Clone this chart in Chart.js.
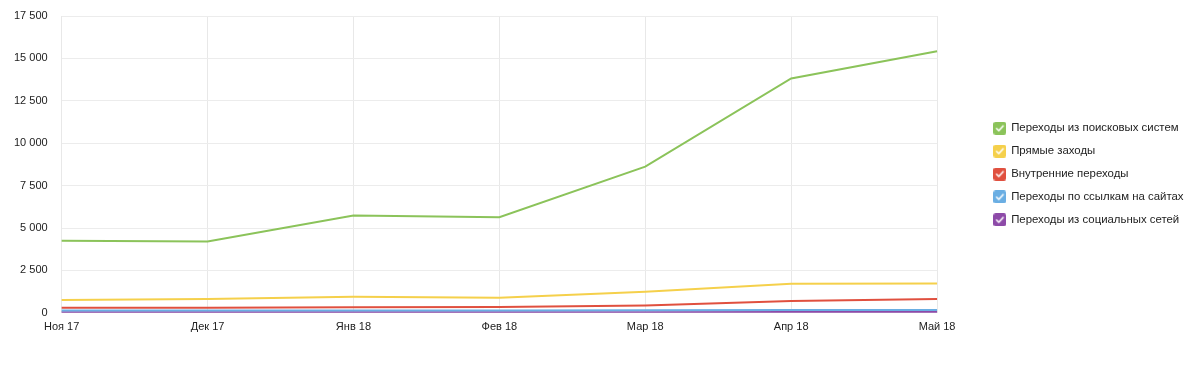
<!DOCTYPE html>
<html>
<head>
<meta charset="utf-8">
<script src="https://cdn.jsdelivr.net/npm/chart.js@4/dist/chart.umd.min.js"></script>
<style>
    html, body { margin: 0; padding: 0; background: #fff; }
    #wrap { width: 1200px; height: 369px; }
</style>
</head>
<body>
<div id="wrap"><canvas id="traffic"></canvas></div>
<script>
// months on the x axis
const months = ['Ноя 17', 'Дек 17', 'Янв 18', 'Фев 18', 'Мар 18', 'Апр 18', 'Май 18'];

// visits by source
const searchVisits = [4250, 4200, 5730, 5640, 8620, 13820, 15420];
const directVisits = [760, 820, 940, 890, 1240, 1720, 1730];
const internalVisits = [300, 300, 320, 340, 430, 700, 820];
const linkVisits = [130, 130, 140, 140, 150, 170, 170];
const socialVisits = [30, 30, 30, 30, 30, 40, 40];

const seriesNames = [
    'Переходы из поисковых систем',
    'Прямые заходы',
    'Внутренние переходы',
    'Переходы по ссылкам на сайтах',
    'Переходы из социальных сетей'
];
const seriesColors = ['#8bc35a', '#f5d04b', '#e0503f', '#6aaee3', '#8d4aa8'];

// y ticks
const yMax = 17500;
const yStep = 2500;

// little checkbox icons for the legend
function makeCheckbox(color) {
    const c = document.createElement('canvas');
    c.width = 13;
    c.height = 13;
    const g = c.getContext('2d');
    g.fillStyle = color;
    g.beginPath();
    g.roundRect(0, 0, 13, 13, 2.5);
    g.fill();
    g.strokeStyle = '#fff';
    g.lineWidth = 1.6;
    g.lineCap = 'round';
    g.lineJoin = 'round';
    g.beginPath();
    g.moveTo(3.3, 6.8);
    g.lineTo(5.5, 9);
    g.lineTo(9.8, 4.2);
    g.stroke();
    return c;
}

const allValues = [searchVisits, directVisits, internalVisits, linkVisits, socialVisits];

const datasets = allValues.map((vals, i) => ({
    label: seriesNames[i],
    data: vals,
    borderColor: seriesColors[i],
    backgroundColor: seriesColors[i],
    borderWidth: 2,
    pointRadius: 0,
    pointHoverRadius: 0,
    pointStyle: makeCheckbox(seriesColors[i]),
    tension: 0,
    fill: false
}));

// push the legend away from the plot
const legendGap = 52;
const legendShift = { x: 45.5, y: -5 };
const legendSpacer = {
    id: 'legendSpacer',
    beforeInit(chart) {
        const legend = chart.legend;
        const origFit = legend.fit;
        legend.fit = function () {
            origFit.bind(legend)();
            this.width += legendGap;
        };
        const origDraw = legend.draw;
        legend.draw = function () {
            const ctx = this.ctx;
            ctx.save();
            ctx.translate(legendShift.x, legendShift.y);
            origDraw.bind(legend)();
            ctx.restore();
        };
    }
};

function spaced(n) {
    return String(n).replace(/\B(?=(\d{3})+(?!\d))/g, ' ');
}

const ctx = document.getElementById('traffic').getContext('2d');
new Chart(ctx, {
    type: 'line',
    data: {
        labels: months,
        datasets: datasets
    },
    options: {
        responsive: true,
        maintainAspectRatio: false,
        animation: false,
        layout: {
            padding: { top: 16, left: 0, right: 0, bottom: 27 }
        },
        plugins: {
            tooltip: { enabled: false },
            legend: {
                position: 'right',
                labels: {
                    usePointStyle: true,
                    boxWidth: 13,
                    boxHeight: 13,
                    padding: 11.5,
                    color: '#222',
                    font: { family: 'Liberation Sans, Arial, sans-serif', size: 11.4 }
                }
            }
        },
        scales: {
            x: {
                offset: false,
                grid: { color: '#e8e8e8', drawTicks: false },
                border: { display: false },
                ticks: {
                    color: '#222',
                    padding: 8,
                    maxRotation: 0,
                    font: { family: 'Liberation Sans, Arial, sans-serif', size: 11 }
                }
            },
            y: {
                min: 0,
                max: yMax,
                grid: { color: '#ececec', drawTicks: false },
                border: { display: false },
                afterFit: scale => { scale.paddingTop = 0; },
                ticks: {
                    stepSize: yStep,
                    color: '#222',
                    padding: 14,
                    font: { family: 'Liberation Sans, Arial, sans-serif', size: 11 },
                    callback: v => spaced(v)
                }
            }
        }
    },
    plugins: [legendSpacer]
});
</script>
</body>
</html>
